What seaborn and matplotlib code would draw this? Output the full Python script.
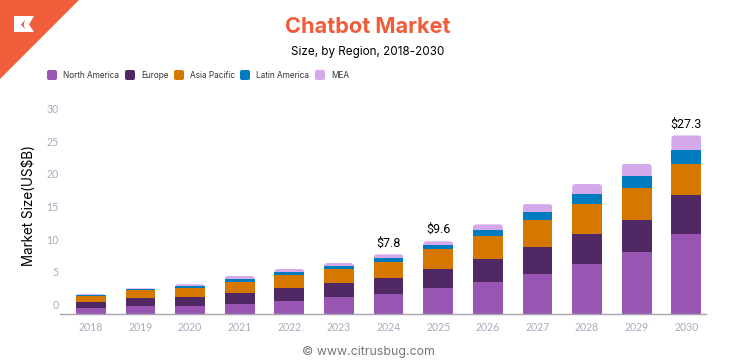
import numpy as np
import seaborn as sns
import matplotlib
matplotlib.use("Agg")
import matplotlib.pyplot as plt
from matplotlib.patches import FancyBboxPatch, Polygon
from matplotlib.transforms import IdentityTransform, ScaledTranslation

years = ["2018","2019","2020","2021","2022","2023","2024","2025","2026","2027","2028","2029","2030"]
north_america = [0.82,1.12,1.22,1.50,1.90,2.50,2.95,3.90,4.80,6.00,7.55,9.40,12.10]
europe        = [0.92,1.22,1.28,1.63,2.00,2.15,2.45,2.90,3.50,4.15,4.60,4.90,6.10]
asia_pacific  = [0.92,1.22,1.38,1.68,2.00,2.15,2.45,3.05,3.50,4.15,4.60,4.90,4.75]
latin_america = [0.15,0.15,0.30,0.46,0.46,0.46,0.60,0.60,0.92,1.22,1.53,1.85,2.15]
mea           = [0.15,0.15,0.30,0.46,0.46,0.46,0.60,0.60,0.92,1.22,1.53,1.85,2.15]
regions = ["North America","Europe","Asia Pacific","Latin America","MEA"]
colors = ["#9856b2","#4f2864","#d67700","#007bbd","#d4a9ec"]
series = [north_america,europe,asia_pacific,latin_america,mea]
annot_years = ["2024","2025","2030"]
annot_text = ["$7.8","$9.6","$27.3"]
y_ticks = [0,5,10,15,20,25,30]

W,H = 736,364
sns.set_theme(style="white")
plt.rcParams["font.family"] = ["Inter","DejaVu Sans"]
plt.rcParams["text.parse_math"] = False
fig = plt.figure(figsize=(W/100,H/100),dpi=100,facecolor="white")
def px(x0,y0,x1,y1):
    return [x0/W,1-y1/H,(x1-x0)/W,(y1-y0)/H]
ax = fig.add_axes(px(60,117.5,705.7,313.5))
ax.patch.set_alpha(0)

bottom = np.zeros(len(years))
tops=[]
for name,vals,c in zip(regions,series,colors):
    n0=len(ax.patches)
    sns.barplot(x=years,y=vals,color=c,saturation=1,width=0.6,bottom=bottom,ax=ax,linewidth=0,errorbar=None)
    tops=ax.patches[n0:]
    bottom=bottom+np.array(vals)
ax.set_xlim(-0.62,12.39)
ax.set_ylim(0,30)
ax.set_xlabel(""); ax.set_ylabel("")
ax.set_yticks(y_ticks)
for s in ["top","left","right"]:
    ax.spines[s].set_visible(False)
ax.spines["bottom"].set_color("#a7a5b3")
ax.spines["bottom"].set_linewidth(1.0)
ax.tick_params(axis="both",length=0)
ax.tick_params(axis="x",pad=6,labelsize=7.6,labelcolor="#a6abbd")
ax.tick_params(axis="y",pad=1,labelsize=7.6,labelcolor="#a6abbd")
for l in ax.get_yticklabels():
    l.set_transform(l.get_transform()+ScaledTranslation(0,9/100,fig.dpi_scale_trans))
for l in ax.get_xticklabels()+ax.get_yticklabels():
    l.set_fontfamily(["Lato","DejaVu Sans"])

# rounded tops on the uppermost segment
fig.canvas.draw()
for p in tops:
    bb=p.get_window_extent()
    clip=FancyBboxPatch((bb.x0+2.5,bb.y0-8),bb.width-5,bb.height+8-2.5,boxstyle="round,pad=2.5,rounding_size=3",transform=IdentityTransform())
    p.set_clip_path(clip)

# total annotations
for y,t in zip(annot_years,annot_text):
    i=years.index(y)
    ax.annotate(t,(i,float(bottom[i])),xytext=(0,5),textcoords="offset pixels",ha="center",va="bottom",fontsize=9,fontfamily=["Roboto","DejaVu Sans"],color="black",annotation_clip=False)

# corner logo
fig.patches.append(Polygon([(0,1),(79/W,1),(0,1-79/H)],closed=True,transform=fig.transFigure,facecolor="#f15d3a",edgecolor="none"))
fig.patches.append(Polygon([(14/W,1-16/H),(34/W,1-16/H),(29/W,1-24.5/H),(34/W,1-32/H),(14/W,1-32/H)],closed=True,transform=fig.transFigure,facecolor="white",edgecolor="none"))
fig.patches.append(Polygon([(25/W,1-20/H),(21/W,1-24.5/H),(25/W,1-29/H),(23.5/W,1-24.5/H)],closed=True,transform=fig.transFigure,facecolor="#c9563c",edgecolor="none"))

# texts
fig.text(368/W,1-27/H,"Chatbot Market",ha="center",va="center",fontsize=15.6,fontweight="bold",color="#f15d3a")
fig.text(368/W,1-52/H,"Size, by Region, 2018-2030",ha="center",va="center",fontsize=8.4,color="black")
fig.text(29/W,1-205/H,"Market Size(US$B)",rotation=90,ha="center",va="center",fontsize=9.7,color="black")
fig.text(368/W,1-352/H,"© www.citrusbug.com",ha="center",va="center",fontsize=8.9,color="#757575")

# legend
lx=[47,125,174,240,315]
for x,name,c in zip(lx,regions,colors):
    fig.patches.append(FancyBboxPatch((x+2,H-80+2),6,6,boxstyle="round,pad=2,rounding_size=2",transform=IdentityTransform(),facecolor=c,edgecolor="none"))
    fig.text((x+16)/W,1-75/H,name,ha="left",va="center",fontsize=5.9,color="#333333")

fig.savefig("out.png",dpi=100,facecolor="white")
